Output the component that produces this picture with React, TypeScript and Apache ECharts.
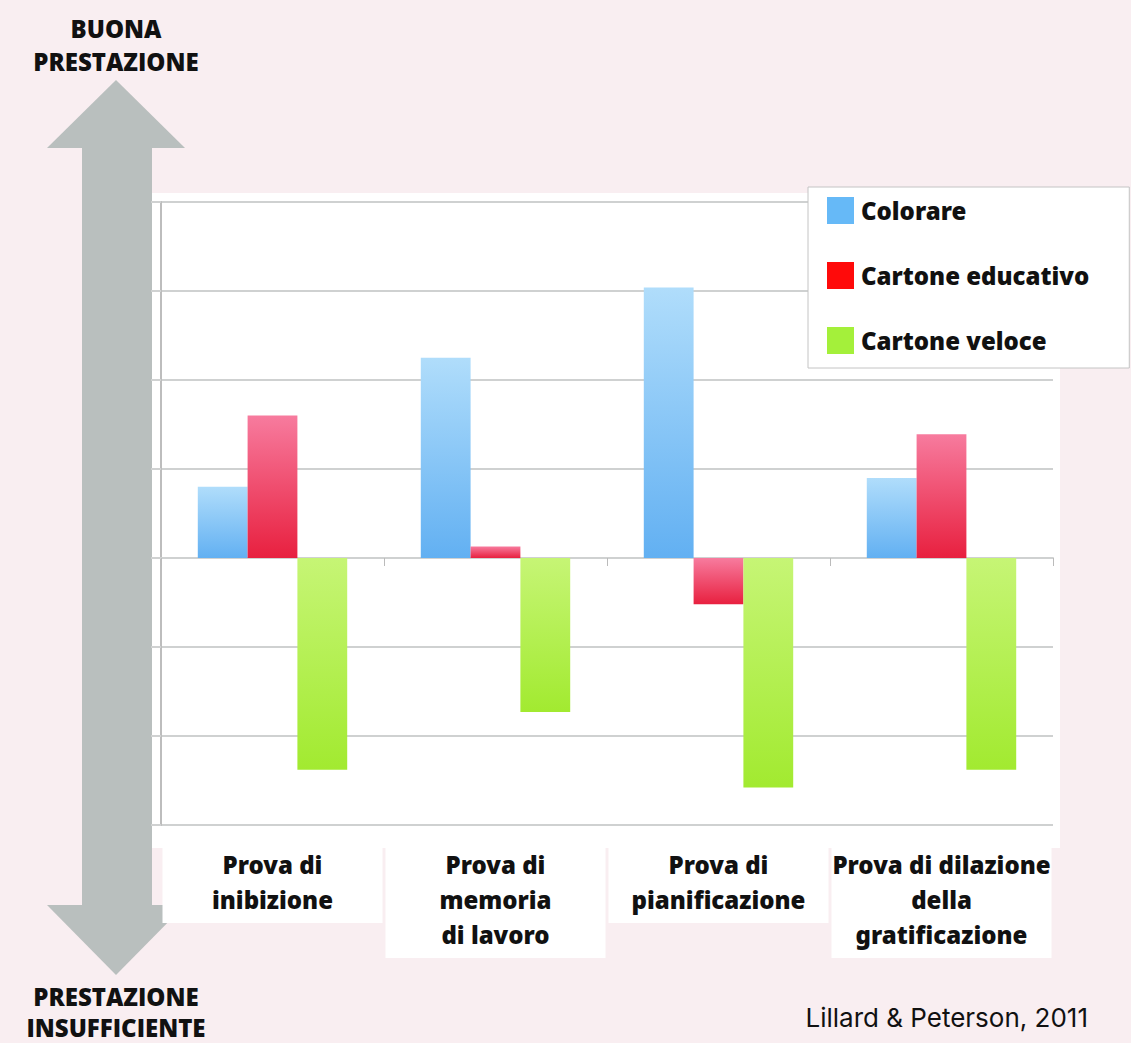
import React, { useEffect, useRef } from "react";
import * as echarts from "echarts";

const categories = [
  "Prova di\ninibizione",
  "Prova di\nmemoria\ndi lavoro",
  "Prova di\npianificazione",
  "Prova di dilazione\ndella\ngratificazione",
];
const colorare = [0.8, 2.25, 3.04, 0.9];
const cartoneEducativo = [1.6, 0.13, -0.52, 1.39];
const cartoneVeloce = [-2.38, -1.73, -2.58, -2.38];
const seriesNames = ["Colorare", "Cartone educativo", "Cartone veloce"];
const legendColors = ["#66b9f7", "#ff0a0a", "#a4f03a"];

const grad = (top: string, bottom: string) =>
  new echarts.graphic.LinearGradient(0, 0, 0, 1, [
    { offset: 0, color: top },
    { offset: 1, color: bottom },
  ]);

export default function App() {
  const ref = useRef<HTMLDivElement>(null);
  useEffect(() => {
    if (!ref.current) return;
    const chart = echarts.init(ref.current, undefined, { renderer: "svg" });
    const labelFont = "'Noto Sans', 'DejaVu Sans', sans-serif";
    const titleFont = "'Open Sans', 'Noto Sans', sans-serif";
    const grey = "#cfd1d1";
    const titleStyle = (text: string) => ({
      text,
      fontSize: 24,
      fontWeight: 800,
      fontFamily: titleFont,
      fill: "#111",
      align: "center",
      verticalAlign: "middle",
    });
    chart.setOption({
      animation: false,
      backgroundColor: "#f9eef1",
      textStyle: { fontFamily: labelFont },
      graphic: [
        { type: "rect", z: -10, shape: { x: 151, y: 193, width: 909, height: 655 }, style: { fill: "#ffffff" } },
        { type: "rect", shape: { x: 82, y: 146, width: 70, height: 761 }, style: { fill: "#b9bfbe" } },
        { type: "polygon", shape: { points: [[47, 148], [185, 148], [116, 80]] }, style: { fill: "#b9bfbe" } },
        { type: "polygon", shape: { points: [[47, 905], [185, 905], [116, 975]] }, style: { fill: "#b9bfbe" } },
        {
          type: "text", x: 116, y: 45,
          style: { ...titleStyle("BUONA\nPRESTAZIONE"), lineHeight: 33 },
        },
        {
          type: "text", x: 116, y: 1012,
          style: { ...titleStyle("PRESTAZIONE\nINSUFFICIENTE"), lineHeight: 31 },
        },
        {
          type: "text", x: 1088, y: 1017,
          style: { text: "Lillard & Peterson, 2011", fontSize: 26, fontFamily: "Inter, sans-serif", fill: "#111", align: "right", verticalAlign: "middle" },
        },
      ],
      legend: {
        orient: "vertical",
        left: 808,
        top: 187,
        data: seriesNames.map((n, i) => ({ name: n, itemStyle: { color: legendColors[i] } })),
        icon: "rect",
        itemWidth: 27,
        itemHeight: 27,
        itemGap: 38,
        backgroundColor: "#ffffff",
        borderColor: "#c4c4c4",
        borderWidth: 1,
        borderRadius: 0,
        padding: [10, 40, 14, 19],
        textStyle: { fontSize: 24, fontWeight: 900, color: "#111", fontFamily: labelFont, padding: [0, 0, 0, 2] },
        selectedMode: false,
      },
      grid: { left: 161, right: 78, top: 202, bottom: 218 },
      xAxis: [
        {
          type: "category",
          data: categories,
          position: "bottom",
          axisLine: { show: false, onZero: false },
          axisTick: { show: false },
          axisLabel: {
            interval: 0,
            margin: 18,
            fontSize: 24,
            fontWeight: 900,
            color: "#111",
            lineHeight: 35,
            fontFamily: labelFont,
            backgroundColor: "#ffffff",
            width: 200,
            align: "center",
            padding: [4, 10, 6, 10],
          },
        },
        {
          type: "category",
          data: categories,
          position: "top",
          axisLine: { show: true, onZero: true, lineStyle: { color: grey, width: 2 } },
          axisTick: { show: true, inside: true, length: 8, lineStyle: { color: "#bbbbbb" } },
          axisLabel: { show: false },
        },
      ],
      yAxis: {
        type: "value",
        min: -3,
        max: 4,
        interval: 1,
        axisLine: { show: true, lineStyle: { color: "#bdbdbd", width: 2 } },
        axisTick: { show: true, length: 10, lineStyle: { color: grey, width: 2 } },
        axisLabel: { show: false },
        splitLine: { show: true, lineStyle: { color: grey, width: 2 } },
      },
      series: [
        {
          name: seriesNames[0],
          type: "bar",
          data: colorare,
          barGap: "0%",
          barCategoryGap: "33%",
          itemStyle: { color: grad("#b0ddfb", "#62b0f2") },
        },
        {
          name: seriesNames[1],
          type: "bar",
          data: cartoneEducativo,
          itemStyle: { color: grad("#f77b9e", "#e8203f") },
        },
        {
          name: seriesNames[2],
          type: "bar",
          data: cartoneVeloce,
          itemStyle: { color: grad("#c6f575", "#a2ea30") },
        },
      ],
    });
    return () => chart.dispose();
  }, []);
  return <div ref={ref} style={{ width: 1131, height: 1043, position: "absolute", left: 0, top: 0 }} />;
}
